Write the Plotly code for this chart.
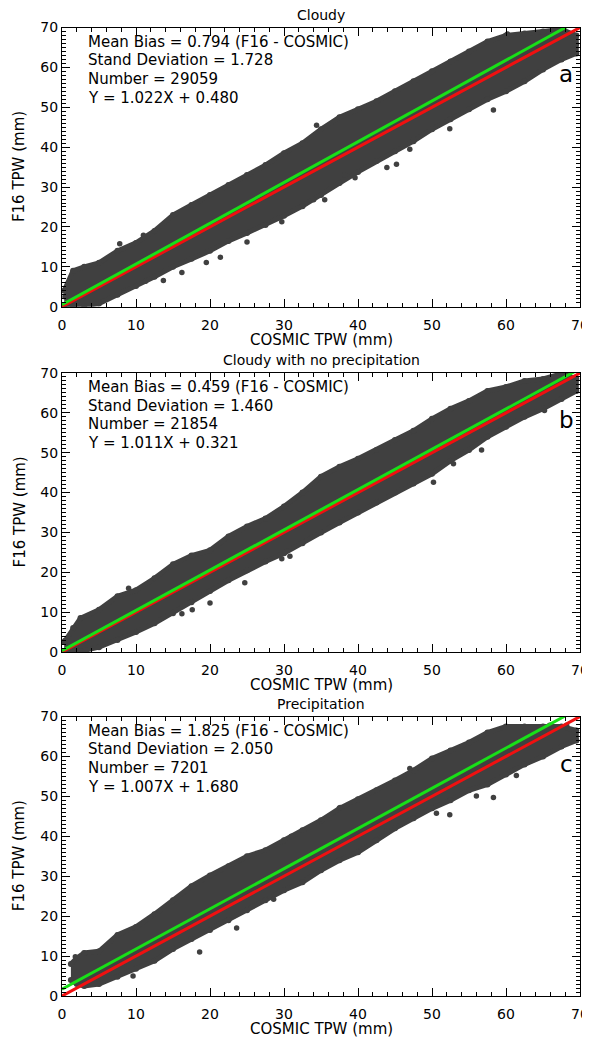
import plotly.graph_objects as go

# panel text
titles = ["Cloudy", "Cloudy with no precipitation", "Precipitation"]
panel_labels = ["a", "b", "c"]
mean_bias = ["0.794", "0.459", "1.825"]
std_dev = ["1.728", "1.460", "2.050"]
numbers = ["29059", "21854", "7201"]
slopes = [1.022, 1.011, 1.007]
intercepts = [0.480, 0.321, 1.680]
slope_txt = ["1.022", "1.011", "1.007"]
intercept_txt = ["0.480", "0.321", "1.680"]

# outline of the dense point cloud (COSMIC TPW -> lower / upper F16 TPW)
cloud_x_a = [0.3, 1.5, 3, 5, 7.5, 10, 12.5, 15, 17.5, 20, 22.5, 25, 27.5, 30, 32.5, 35,
             37.5, 40, 42.5, 45, 47.5, 50, 52.5, 55, 57.5, 60, 62.5, 65, 67.5, 69.5]
cloud_lo_a = [0, 0, 0.2, 0.8, 3, 5.2, 7.5, 10, 12, 14, 16.5, 18.5, 20.5, 22.8, 25.2, 28,
              31, 33.8, 36.5, 39, 41.5, 44.5, 47, 49.5, 52, 54, 56.5, 59.5, 62, 63.5]
cloud_up_a = [4, 9, 10, 11, 14, 16, 19, 23, 25.5, 28, 30.5, 33, 35.5, 38.5, 41, 44.5,
              47.5, 49.5, 51.5, 54, 56.5, 59, 61.5, 64, 66.5, 68, 68.5, 69, 69.5, 68]

cloud_x_b = [0.3, 1.5, 2.5, 5, 7.5, 10, 12.5, 15, 17.5, 20, 22.5, 25, 27.5, 30, 32.5, 35,
             37.5, 40, 42.5, 45, 47.5, 50, 52.5, 55, 57.5, 60, 62.5, 65, 67.5, 69.5]
cloud_lo_b = [0, 0, 0.2, 1.2, 3, 5, 7.2, 9.7, 12.5, 15.3, 18, 20.5, 22.7, 24.8, 27.3, 30,
              32.5, 35, 37.5, 40, 42.3, 44.7, 48, 50.7, 54, 56.5, 59, 61, 63.5, 65.5]
cloud_up_b = [2.5, 6, 8.5, 10.6, 14, 15.5, 18.5, 22, 24.2, 25.5, 29, 31.5, 33.5, 36.5, 40, 44,
              46.5, 48.5, 50.7, 53.2, 55.5, 58.5, 61, 63, 65.5, 66.5, 68, 68.5, 69.8, 68.5]

cloud_x_c = [1.2, 2, 3, 5, 7.5, 10, 12.5, 15, 17.5, 20, 22.5, 25, 27.5, 30, 32.5, 35,
             37.5, 40, 42.5, 45, 47.5, 50, 52.5, 55, 57.5, 60, 62.5, 65, 67.5, 69.5]
cloud_lo_c = [4, 3, 2.5, 3, 4.8, 6.8, 8.8, 11.8, 14.3, 16.5, 19, 21.5, 24, 26.5, 28.5, 31.5,
              34, 36, 39, 42, 44.5, 47, 49, 51.5, 53, 55.5, 58, 60, 62.5, 64]
cloud_up_c = [8, 9.5, 10.8, 11.2, 15.3, 17.3, 20.5, 24, 27.5, 30.2, 32.5, 35, 36.5, 39, 41.5, 44,
              47, 49.3, 51.5, 54, 56.5, 59.5, 61.5, 63.5, 66, 67.5, 67.5, 67.5, 67.5, 66.5]

# scattered points lying outside the dense cloud
out_x_a = [0.4, 7.8, 11.0, 11.3, 13.7, 16.2, 19.5, 21.4, 25.0, 29.7, 34.0, 35.5,
           38.2, 39.6, 43.9, 45.2, 47.0, 47.5, 52.4, 58.3, 60.2, 69.5, 34.4]
out_y_a = [2.5, 15.8, 17.9, 6.4, 6.6, 8.6, 11.1, 12.4, 16.2, 21.3, 26.8, 26.8,
           33.0, 32.3, 34.9, 35.7, 39.5, 42.1, 44.6, 49.3, 68.4, 65.8, 45.5]
out_x_b = [0.4, 9.0, 16.2, 17.6, 20.0, 24.7, 29.7, 30.8, 50.2, 52.9, 56.7, 65.2, 68.5]
out_y_b = [2.9, 16.0, 9.6, 10.6, 12.3, 17.4, 23.4, 24.0, 42.6, 47.2, 50.7, 60.6, 69.8]
out_x_c = [1.8, 9.6, 18.6, 23.6, 28.6, 31.0, 35.3, 37.6, 43.9, 47.0, 50.6, 52.4,
           56.0, 58.3, 61.4, 65.9, 68.2, 69.3]
out_y_c = [9.8, 5.0, 11.0, 17.0, 24.2, 40.0, 44.2, 47.2, 41.3, 57.0, 45.8, 45.4,
           50.1, 49.7, 55.2, 67.8, 67.8, 64.8]

clouds = [(cloud_x_a, cloud_lo_a, cloud_up_a), (cloud_x_b, cloud_lo_b, cloud_up_b),
          (cloud_x_c, cloud_lo_c, cloud_up_c)]
outliers = [(out_x_a, out_y_a), (out_x_b, out_y_b), (out_x_c, out_y_c)]

# page is 590x1043; the html body adds an 8px margin around the figure
PAGE_MARGIN = 8
W, H = 590 - PAGE_MARGIN, 1043 - PAGE_MARGIN
FONT = "DejaVu Sans, Arial, sans-serif"
GRAY = "#404040"

# pixel frame of each panel on the page: left, right, top, bottom
left, right = 62, 580
tops = [27.5, 373, 716.5]
bottoms = [306.7, 652, 996]


def px(x):
    return (x - PAGE_MARGIN) / W


def py(y):
    return 1 - (y - PAGE_MARGIN) / H


fig = go.Figure()
annotations = []


def note(text, x, y, size, **kw):
    d = dict(text=text, x=px(x), y=py(y), xref="paper", yref="paper", showarrow=False,
             xanchor="center", yanchor="middle",
             font=dict(family=FONT, size=size, color="black"))
    d.update(kw)
    annotations.append(d)


for i in range(3):
    xa = "x" if i == 0 else "x%d" % (i + 1)
    ya = "y" if i == 0 else "y%d" % (i + 1)
    cx, lo, up = clouds[i]

    # dense cloud of points
    fig.add_trace(go.Scatter(
        x=cx + cx[::-1], y=up + lo[::-1], fill="toself", fillcolor=GRAY,
        mode="lines", line=dict(color=GRAY, width=5),
        xaxis=xa, yaxis=ya, hoverinfo="skip"))
    fig.add_trace(go.Scatter(
        x=cx + cx, y=up + lo, mode="markers",
        marker=dict(color=GRAY, size=6), xaxis=xa, yaxis=ya))
    fig.add_trace(go.Scatter(
        x=outliers[i][0], y=outliers[i][1], mode="markers",
        marker=dict(color=GRAY, size=5.5), xaxis=xa, yaxis=ya))

    # 1:1 line and fit line
    fig.add_trace(go.Scatter(x=[0, 70], y=[0, 70], mode="lines",
                             line=dict(color="#f01010", width=3), xaxis=xa, yaxis=ya))
    fig.add_trace(go.Scatter(x=[0, 70], y=[intercepts[i], slopes[i] * 70 + intercepts[i]],
                             mode="lines", line=dict(color="#18e018", width=3),
                             xaxis=xa, yaxis=ya))

    axis_common = dict(
        range=[0, 70], dtick=10, ticks="inside", ticklen=8, tickwidth=1, tickcolor="black",
        showline=True, linecolor="black", linewidth=1, mirror="allticks",
        showgrid=False, zeroline=False, automargin=False,
        tickfont=dict(family=FONT, size=14, color="black"),
    )
    fig.update_layout(**{
        ("xaxis" if i == 0 else "xaxis%d" % (i + 1)): dict(
            axis_common, domain=[px(left), px(right)], anchor=ya, ticklabelstandoff=5,
            minor=dict(dtick=2, ticks="inside", ticklen=4, tickcolor="black")),
        ("yaxis" if i == 0 else "yaxis%d" % (i + 1)): dict(
            axis_common, domain=[py(bottoms[i]), py(tops[i])], anchor=xa,
            minor=dict(dtick=1, ticks="inside", ticklen=4, tickcolor="black")),
    })

    t = tops[i]
    b = bottoms[i]
    note(titles[i], (left + right) / 2, t - 13, 14)
    note("COSMIC TPW (mm)", (left + right) / 2, b + 33, 15)
    note("F16 TPW (mm)", 19, (t + b) / 2, 15, textangle=-90)
    lines = ["Mean Bias = %s (F16 - COSMIC)" % mean_bias[i],
             "Stand Deviation = %s" % std_dev[i],
             "Number = %s" % numbers[i],
             "Y = %sX + %s" % (slope_txt[i], intercept_txt[i])]
    for k, s in enumerate(lines):
        note(s, 86, t + 14 + 18.7 * k, 15, xanchor="left")
    note(panel_labels[i], 566, t + 47, 23)

fig.update_layout(
    width=W, height=H,
    margin=dict(l=0, r=0, t=0, b=0),
    paper_bgcolor="white", plot_bgcolor="white",
    showlegend=False,
    annotations=annotations,
)

fig.write_html("out.html")
